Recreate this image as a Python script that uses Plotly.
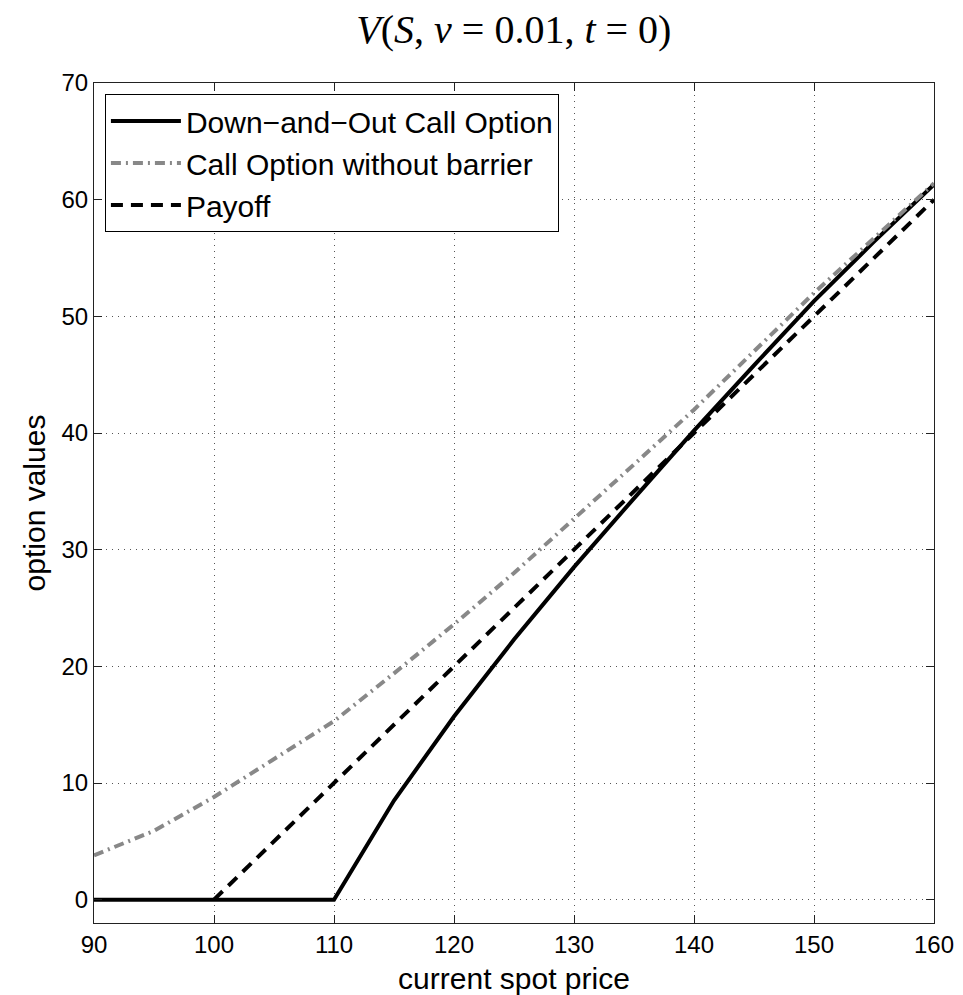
import plotly.graph_objects as go

spot = [90, 95, 100, 105, 110, 115, 120, 125, 130, 135, 140, 145, 150, 155, 160]
down_and_out = [0, 0, 0, 0, 0, 8.5, 15.7, 22.3, 28.5, 34.4, 40.2, 45.8, 51.3, 56.4, 61.3]
call_no_barrier = [3.8, 5.9, 8.8, 12.0, 15.3, 19.4, 23.6, 28.0, 32.6, 37.3, 42.0, 47.0, 52.0, 56.7, 61.4]
payoff_x = [100, 160]
payoff_y = [0, 60]

x_ticks = [90, 100, 110, 120, 130, 140, 150, 160]
y_ticks = [0, 10, 20, 30, 40, 50, 60, 70]

SANS = "Liberation Sans, Arial, Helvetica, sans-serif"

fig = go.Figure()
fig.add_trace(go.Scatter(x=spot, y=down_and_out, mode="lines",
                         name="Down\u2212and\u2212Out Call Option",
                         line=dict(color="black", width=4)))
fig.add_trace(go.Scatter(x=spot, y=call_no_barrier, mode="lines",
                         name="Call Option without barrier",
                         line=dict(color="#888888", width=4, dash="10px,5px,2px,5px")))
fig.add_trace(go.Scatter(x=payoff_x, y=payoff_y, mode="lines",
                         name="Payoff",
                         line=dict(color="black", width=4, dash="12px,8px")))

axis_common = dict(
    showline=True, linecolor="#222222", linewidth=1, mirror="ticks",
    ticks="inside", ticklen=8, tickcolor="#222222", tickwidth=1,
    showgrid=True, gridcolor="#555555", griddash="1px,5px", gridwidth=1,
    zeroline=False, automargin=False,
    tickfont=dict(family=SANS, size=24, color="black"),
)

fig.update_layout(
    width=963, height=995,
    margin=dict(l=94, r=29, t=83, b=72),
    paper_bgcolor="white", plot_bgcolor="white",
    title=dict(
        text="<i>V</i>(<i>S</i>, <i>v</i> = 0.01, <i>t</i> = 0)",
        font=dict(family="Liberation Serif, Times New Roman, serif", size=40, color="black"),
        x=0.5336, xanchor="center", y=0.971, yanchor="middle",
    ),
    xaxis=dict(range=[90, 160], tickvals=x_ticks,
               title=dict(text="current spot price", standoff=12,
                          font=dict(family=SANS, size=30, color="black")),
               **axis_common),
    yaxis=dict(range=[-2, 70], tickvals=y_ticks,
               title=dict(text="option values", standoff=6,
                          font=dict(family=SANS, size=30, color="black")),
               **axis_common),
    legend=dict(
        x=0.013, y=0.987, xanchor="left", yanchor="top",
        bgcolor="white", bordercolor="black", borderwidth=1,
        font=dict(family=SANS, size=30, color="black"),
        itemwidth=70, tracegroupgap=0,
    ),
    showlegend=True,
)

fig.write_html("out.html")
